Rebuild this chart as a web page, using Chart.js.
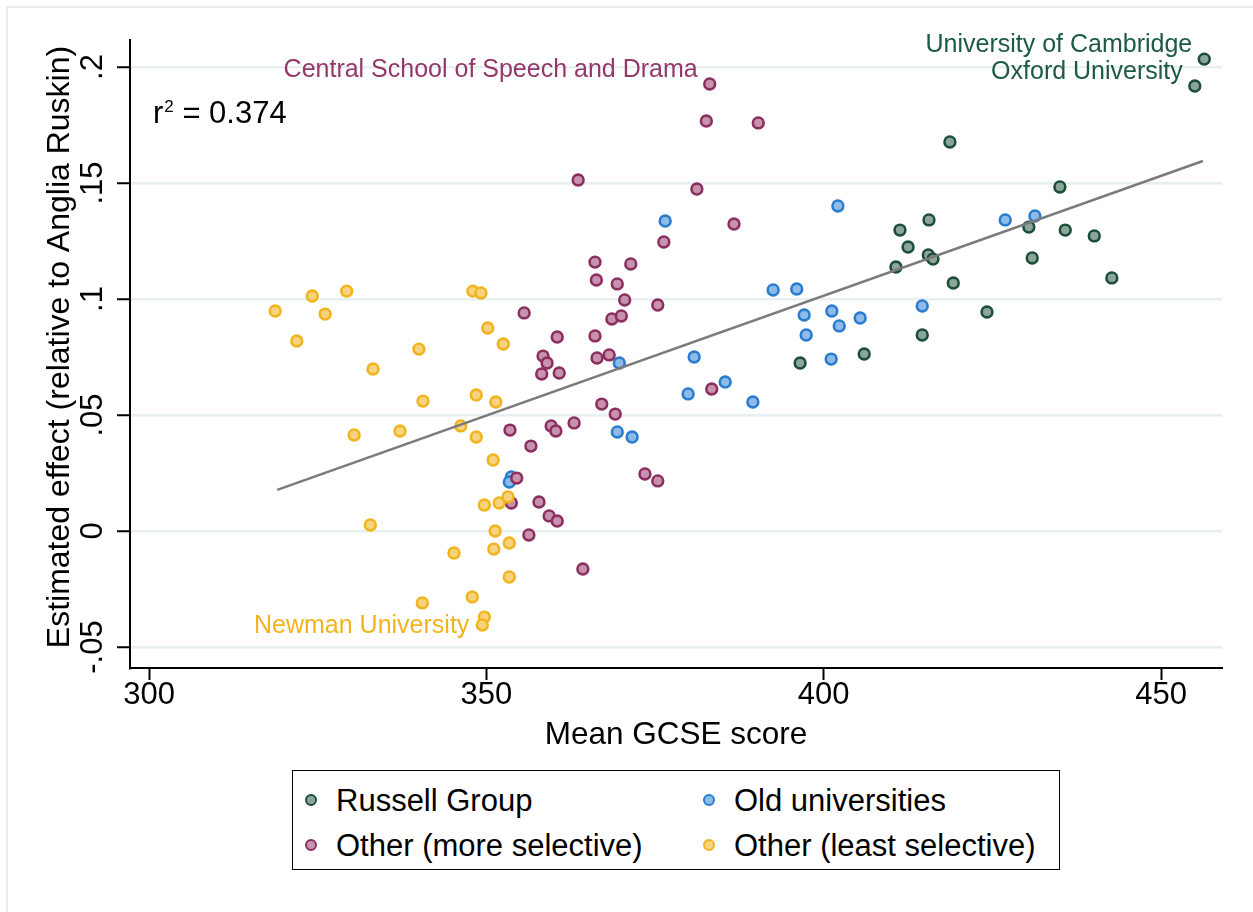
<!DOCTYPE html>
<html>
<head>
<meta charset="utf-8">
<script src="https://cdn.jsdelivr.net/npm/chart.js@4.4.1/dist/chart.umd.min.js"></script>
<style>
  html, body { margin: 0; padding: 0; background: #fff; }
  body { width: 1253px; height: 912px; position: relative; overflow: hidden; font-family: "Liberation Sans", Arial, sans-serif; }
  #frame { position: absolute; left: 6px; top: 6px; width: 1300px; height: 1000px; border: 2px solid #e9eef1; }
  #chart { position: absolute; left: 0; top: 0; }
  #legend { position: absolute; left: 292px; top: 770px; width: 766px; height: 98px; border: 1.5px solid #000; background: #fff; }
  .item { position: absolute; height: 36px; line-height: 36px; font-size: 31px; color: #000; white-space: nowrap; }
  .dot { position: absolute; left: -31px; top: 11px; width: 8px; height: 8px; border-radius: 50%; border: 2.6px solid; }
</style>
</head>
<body>
<div id="frame"></div>
<canvas id="chart" width="1253" height="912"></canvas>
<div id="legend"></div>
<script>
const seriesNames = ["Russell Group", "Old universities", "Other (more selective)", "Other (least selective)"];

// Russell Group
const russellX = [456.4, 455.0, 418.7, 435.0, 415.6, 411.3, 430.4, 435.8, 440.1, 412.5, 415.5, 416.2, 430.9, 410.7, 419.2, 442.7, 424.2, 414.6, 406.0, 396.5];
const russellY = [0.2034, 0.1918, 0.1677, 0.1483, 0.1341, 0.1297, 0.1310, 0.1297, 0.1272, 0.1224, 0.1190, 0.1172, 0.1177, 0.1138, 0.1069, 0.1091, 0.0944, 0.0845, 0.0763, 0.0724];

// Old universities
const oldX = [376.5, 402.1, 426.9, 431.3, 392.5, 396.0, 397.1, 401.2, 405.4, 402.3, 397.4, 401.1, 414.6, 369.7, 380.8, 379.9, 385.4, 389.5, 369.4, 371.6, 353.7, 353.4];
const oldY = [0.1336, 0.1401, 0.1341, 0.1358, 0.1039, 0.1043, 0.0931, 0.0948, 0.0918, 0.0884, 0.0845, 0.0741, 0.0970, 0.0724, 0.0750, 0.0591, 0.0642, 0.0556, 0.0427, 0.0405, 0.0233, 0.0211];

// Other (more selective)
const moreX = [383.1, 382.6, 390.3, 363.6, 381.2, 376.3, 386.7, 366.1, 371.4, 366.3, 369.4, 370.5, 375.4, 355.6, 368.6, 370.0, 360.5, 366.1, 358.4, 359.0, 358.2, 360.8, 366.4, 368.2, 383.4, 367.1, 369.1, 353.5, 359.6, 360.3, 363.0, 356.6, 354.5, 353.7, 357.8, 359.3, 360.5, 356.3, 373.5, 375.4, 364.3];
const moreY = [0.1927, 0.1767, 0.1759, 0.1513, 0.1474, 0.1246, 0.1323, 0.1159, 0.1151, 0.1082, 0.1065, 0.0996, 0.0974, 0.0940, 0.0914, 0.0927, 0.0836, 0.0841, 0.0754, 0.0724, 0.0677, 0.0681, 0.0746, 0.0759, 0.0612, 0.0547, 0.0504, 0.0435, 0.0453, 0.0431, 0.0466, 0.0366, 0.0228, 0.0121, 0.0125, 0.0065, 0.0043, -0.0017, 0.0246, 0.0216, -0.0164];

// Other (least selective)
const leastX = [318.7, 321.9, 324.2, 326.1, 329.3, 333.2, 340.0, 348.0, 349.2, 350.2, 352.5, 340.6, 348.5, 351.4, 330.4, 337.2, 346.2, 348.5, 351.0, 332.8, 349.7, 351.9, 353.2, 351.3, 353.4, 351.1, 345.2, 353.4, 347.9, 340.5, 349.7, 349.4];
const leastY = [0.0948, 0.0819, 0.1013, 0.0935, 0.1034, 0.0698, 0.0784, 0.1034, 0.1026, 0.0875, 0.0806, 0.0560, 0.0586, 0.0556, 0.0414, 0.0431, 0.0453, 0.0405, 0.0306, 0.0026, 0.0112, 0.0121, 0.0147, 0.0000, -0.0052, -0.0078, -0.0095, -0.0198, -0.0284, -0.0310, -0.0371, -0.0405];

// fitted line end points
const fitX = [319.0, 456.2];
const fitY = [0.0177, 0.1595];

const xTicks = [300, 350, 400, 450];
const xTickLabels = ["300", "350", "400", "450"];
const yTicks = [-0.05, 0, 0.05, 0.1, 0.15, 0.2];
const yTickLabels = ["-.05", "0", ".05", ".1", ".15", ".2"];

const labelNames = ["University of Cambridge", "Oxford University", "Central School of Speech and Drama", "Newman University"];
const labelX = [456.4, 455.0, 383.1, 349.4];
const labelY = [0.2034, 0.1918, 0.1927, -0.0405];
const labelSeries = [0, 0, 2, 3];
const labelClock = [10, 10, 10, 9];

const FONT = '"Liberation Sans", Arial, sans-serif';
const colors = [
  { border: "#1c4f3b", fill: "#8ba698", text: "#1d5a42" },
  { border: "#2a7ccf", fill: "#8dbae7", text: "#2a7ccf" },
  { border: "#8c2f5f", fill: "#c692af", text: "#94386a" },
  { border: "#f2b41e", fill: "#f7d37f", text: "#f2b31f" }
];
const drawOrder = [4, 3, 2, 1];

const toPts = (xs, ys) => xs.map((v, i) => ({ x: v, y: ys[i] }));
const series = [[russellX, russellY], [oldX, oldY], [moreX, moreY], [leastX, leastY]];

const datasets = series.map((s, i) => ({
  label: seriesNames[i],
  data: toPts(s[0], s[1]),
  backgroundColor: colors[i].fill,
  borderColor: colors[i].border,
  borderWidth: 2.6,
  pointRadius: 5.4,
  order: drawOrder[i]
}));
datasets.push({
  label: "fit",
  data: toPts(fitX, fitY),
  showLine: true,
  borderColor: "#7b7b7b",
  borderWidth: 2.5,
  pointRadius: 0,
  order: 0
});

const overlay = {
  id: "overlay",
  afterDraw(chart) {
    const { ctx, chartArea } = chart;
    const x = chart.scales.x, y = chart.scales.y;
    ctx.save();
    ctx.fillStyle = "#000";
    ctx.font = "31px " + FONT;

    // rotated y tick labels
    yTicks.forEach((v, i) => {
      ctx.save();
      ctx.translate(102, y.getPixelForValue(v));
      ctx.rotate(-Math.PI / 2);
      ctx.textAlign = "center";
      ctx.textBaseline = "alphabetic";
      ctx.fillText(yTickLabels[i], 0, 0);
      ctx.restore();
    });

    // axis titles
    ctx.save();
    ctx.font = "32px " + FONT;
    ctx.translate(69, 347);
    ctx.rotate(-Math.PI / 2);
    ctx.textAlign = "center";
    ctx.fillText("Estimated effect (relative to Anglia Ruskin)", 0, 0);
    ctx.restore();

    ctx.font = "31.5px " + FONT;
    ctx.textAlign = "center";
    ctx.fillText("Mean GCSE score", (chartArea.left + chartArea.right) / 2, 744);

    // r squared
    ctx.textAlign = "left";
    ctx.font = "31px " + FONT;
    let tx = chartArea.left + 23;
    ctx.fillText("r", tx, 123);
    tx += ctx.measureText("r").width + 1;
    ctx.font = "17px " + FONT;
    ctx.fillText("2", tx, 112);
    tx += ctx.measureText("2").width;
    ctx.font = "31px " + FONT;
    ctx.fillText(" = 0.374", tx, 123);

    // point labels
    ctx.font = "25px " + FONT;
    ctx.textAlign = "right";
    ctx.textBaseline = "middle";
    labelNames.forEach((name, i) => {
      const px = x.getPixelForValue(labelX[i]);
      const py = y.getPixelForValue(labelY[i]);
      const dx = labelClock[i] === 10 ? -12 : -13;
      const dy = labelClock[i] === 10 ? -14 : 1;
      ctx.fillStyle = colors[labelSeries[i]].text;
      ctx.fillText(name, px + dx, py + dy);
    });
    ctx.restore();
  }
};

new Chart(document.getElementById("chart"), {
  type: "scatter",
  data: { datasets },
  options: {
    responsive: false,
    animation: false,
    devicePixelRatio: 1,
    layout: { padding: { top: 40, right: 31, left: 0, bottom: 0 } },
    plugins: { legend: { display: false }, tooltip: { enabled: false } },
    scales: {
      x: {
        type: "linear",
        min: 297.18,
        max: 459.03,
        afterBuildTicks: s => { s.ticks = xTicks.map(v => ({ value: v })); },
        afterFit: s => { s.height = 244; },
        grid: { drawOnChartArea: false, drawTicks: true, tickLength: 12, tickColor: "#000", tickWidth: 2 },
        border: { color: "#000", width: 2 },
        ticks: {
          color: "#000",
          font: { family: FONT, size: 31 },
          padding: -3,
          maxRotation: 0,
          autoSkip: false,
          callback: (v, i) => xTickLabels[i]
        }
      },
      y: {
        type: "linear",
        min: -0.05905,
        max: 0.21164,
        afterBuildTicks: s => { s.ticks = yTicks.map(v => ({ value: v })); },
        afterFit: s => { s.width = 130; },
        grid: { color: "#e8eff2", lineWidth: 2.5, drawTicks: true, tickLength: 13, tickColor: "#000", tickWidth: 2 },
        border: { color: "#000", width: 2 },
        ticks: { display: false }
      }
    }
  },
  plugins: [overlay]
});

// legend box, two columns
const legend = document.getElementById("legend");
seriesNames.forEach((name, i) => {
  const item = document.createElement("div");
  item.className = "item";
  item.style.left = (i % 2 === 0 ? 43 : 441) + "px";
  item.style.top = (i < 2 ? 12 : 57) + "px";
  item.textContent = name;
  const dot = document.createElement("span");
  dot.className = "dot";
  dot.style.borderColor = colors[i].border;
  dot.style.background = colors[i].fill;
  item.appendChild(dot);
  legend.appendChild(item);
});
</script>
</body>
</html>
